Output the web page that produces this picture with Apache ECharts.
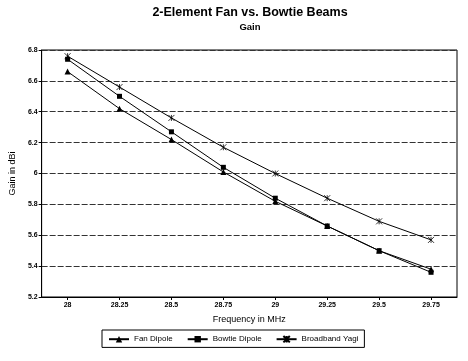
<!DOCTYPE html>
<html>
<head>
<meta charset="utf-8">
<script src="https://cdn.jsdelivr.net/npm/echarts@6/dist/echarts.min.js"></script>
<style>html,body{margin:0;padding:0;background:#fff}#c{width:468px;height:361px}</style>
</head>
<body>
<div id="c"></div>
<script>
var categories = ['28','28.25','28.5','28.75','29','29.25','29.5','29.75'];
var fanDipole = [6.66, 6.42, 6.22, 6.01, 5.82, 5.66, 5.50, 5.38];
var bowtieDipole = [6.74, 6.50, 6.27, 6.04, 5.84, 5.66, 5.50, 5.36];
var broadbandYagi = [6.76, 6.56, 6.36, 6.17, 6.00, 5.84, 5.69, 5.57];
var seriesNames = ['Fan Dipole', 'Bowtie Dipole', 'Broadband Yagi'];

var font = 'Liberation Sans, Arial, sans-serif';
var star = 'path://M0,0L10,10M10,0L0,10M5,0L5,10';

function mk(name, data, symbol, size) {
  return {
    name: name, type: 'line', data: data, symbol: symbol, symbolSize: size,
    showSymbol: true,
    lineStyle: {color: '#000', width: 1},
    itemStyle: {color: '#000', borderColor: '#000', borderWidth: symbol === star ? 0.8 : 0},
    emphasis: {disabled: true},
    animation: false
  };
}

var chart = echarts.init(document.getElementById('c'), null, {renderer: 'canvas'});
chart.setOption({
  backgroundColor: '#fff',
  animation: false,
  title: [
    {text: '2-Element Fan vs. Bowtie Beams', left: 245, textAlign: 'center', top: 1,
     textStyle: {fontFamily: font, fontSize: 12.5, fontWeight: 'bold', color: '#000'}},
    {text: 'Gain', left: 245, textAlign: 'center', top: 17,
     textStyle: {fontFamily: font, fontSize: 9.5, fontWeight: 'bold', color: '#000'}}
  ],
  grid: {left: 36, right: 11, top: 50, bottom: 64, show: true, borderColor: '#000', borderWidth: 1},
  legend: {
    left: 102, top: 330, width: 268,
    data: seriesNames,
    itemWidth: 20, itemHeight: 8, itemGap: 14,
    borderColor: '#000', borderWidth: 1, padding: [5, 6, 4, 6],
    textStyle: {fontFamily: font, fontSize: 8, color: '#000'}
  },
  xAxis: {
    type: 'category', data: categories, boundaryGap: true,
    name: 'Frequency in MHz', nameLocation: 'middle', nameGap: 18,
    nameTextStyle: {fontFamily: font, fontSize: 9, color: '#000'},
    axisLine: {lineStyle: {color: '#000', width: 1}},
    axisTick: {show: true, alignWithLabel: true, length: 3, lineStyle: {color: '#000'}},
    axisLabel: {fontFamily: font, fontSize: 7, fontWeight: 'bold', color: '#000', margin: 5},
    splitLine: {show: false}
  },
  yAxis: {
    type: 'value', min: 5.2, max: 6.8, interval: 0.2,
    name: 'Gain in dBi', nameLocation: 'middle', nameGap: 24,
    nameTextStyle: {fontFamily: font, fontSize: 9, color: '#000'},
    axisLine: {show: true, lineStyle: {color: '#000', width: 1}},
    axisTick: {show: true, length: 3, lineStyle: {color: '#000'}},
    axisLabel: {fontFamily: font, fontSize: 7, fontWeight: 'bold', color: '#000', margin: 4,
      formatter: function (v) { return String(Math.round(v * 10) / 10); }},
    splitLine: {show: true, lineStyle: {color: '#333', width: 1, type: [6, 2]}}
  },
  series: [
    mk(seriesNames[0], fanDipole, 'triangle', 6),
    mk(seriesNames[1], bowtieDipole, 'rect', 5),
    mk(seriesNames[2], broadbandYagi, star, 6)
  ]
});
</script>
</body>
</html>
